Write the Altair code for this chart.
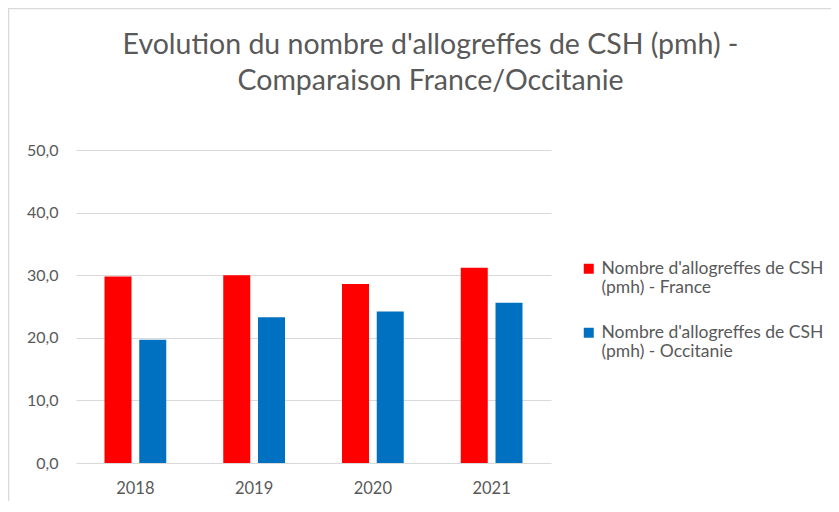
import altair as alt
import pandas as pd

years = ["2018", "2019", "2020", "2021"]
france = [29.8, 30.0, 28.6, 31.2]
occitanie = [19.7, 23.3, 24.2, 25.6]
series = [
    "Nombre d'allogreffes de CSH (pmh) - France",
    "Nombre d'allogreffes de CSH (pmh) - Occitanie",
]
colors = ["#FF0000", "#0070C0"]
y_ticks = [0, 10, 20, 30, 40, 50]
title_lines = [
    "Evolution du nombre d'allogreffes de CSH (pmh) -",
    "Comparaison France/Occitanie",
]

rows = []
for i, yr in enumerate(years):
    rows.append({"year": yr, "series": series[0], "value": france[i]})
    rows.append({"year": yr, "series": series[1], "value": occitanie[i]})
df = pd.DataFrame(rows)

FONT = "Lato"
GREY = "#595959"
GRID = "#D9D9D9"

bars = alt.Chart(df).mark_bar().encode(
    x=alt.X(
        "year:N", sort=years, title=None,
        scale=alt.Scale(paddingInner=0.48, paddingOuter=0.24),
        axis=alt.Axis(labelAngle=0, ticks=False, domain=False, grid=False,
                      labelPadding=17, labelFontSize=16.5, labelColor=GREY, labelFont=FONT),
    ),
    xOffset=alt.XOffset("series:N", sort=series,
                        scale=alt.Scale(paddingInner=0.223, paddingOuter=0)),
    y=alt.Y(
        "value:Q", title=None, scale=alt.Scale(domain=[0, 50]),
        axis=alt.Axis(values=y_ticks, labelExpr="replace(format(datum.value, '.1f'), '.', ',')",
                      ticks=False, domain=False, grid=True, gridColor=GRID, gridWidth=1,
                      labelPadding=18, labelFontSize=16, labelColor=GREY, labelFont=FONT),
    ),
    color=alt.Color(
        "series:N", sort=series,
        scale=alt.Scale(domain=series, range=colors),
        legend=alt.Legend(title=None, orient="none", legendX=504, legendY=110,
                          labelExpr="[slice(datum.label, 0, 27), slice(datum.label, 28)]",
                          symbolType="square", symbolSize=100, symbolStrokeWidth=0,
                          labelFontSize=17.5, labelColor=GREY, labelFont=FONT,
                          labelLimit=300, rowPadding=26, labelOffset=4),
    ),
)

frame = alt.Chart(alt.Data(values=[{}])).mark_rule(color=GRID, strokeWidth=1.5).encode(
    x=alt.value(-67.5), y=alt.value(-142), y2=alt.value(400)
)
frame_top = alt.Chart(alt.Data(values=[{}])).mark_rule(color=GRID, strokeWidth=1.5).encode(
    x=alt.value(-68), x2=alt.value(800), y=alt.value(-141.5)
)

chart = alt.layer(bars, frame, frame_top).properties(
    width=475, height=313,
    title=alt.Title(title_lines, fontSize=28.5, font=FONT, fontWeight="normal", color=GREY,
                    anchor="middle", frame="group", dx=117, lineHeight=36, offset=-88),
    autosize=alt.AutoSizeParams(type="none"),
    padding={"left": 68, "top": 142, "right": 280, "bottom": 38},
).configure(background="white").configure_view(strokeWidth=0, stroke="transparent")

chart.save("out.html", embed_options={"renderer": "svg", "actions": False})
